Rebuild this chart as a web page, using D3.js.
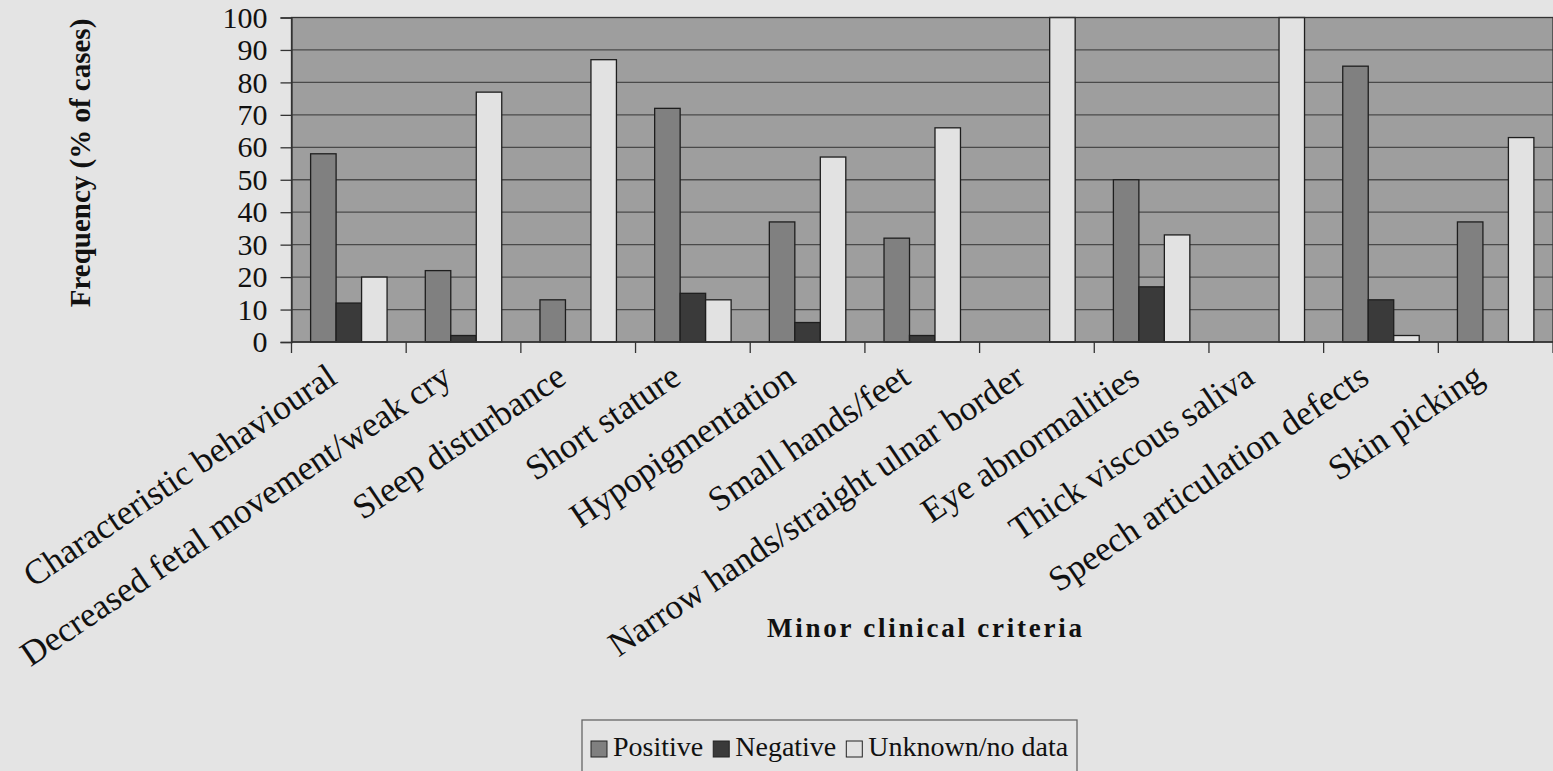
<!DOCTYPE html>
<html>
<head>
<meta charset="utf-8">
<script src="https://cdn.jsdelivr.net/npm/d3@7"></script>
<style>
  body { margin: 0; background: #e4e4e4; }
  svg { display: block; }
  text { font-family: "Liberation Serif", "Times New Roman", serif; fill: #111; }
</style>
</head>
<body>
<div id="chart"></div>
<script>
const categories = [
    "Characteristic behavioural",
    "Decreased fetal movement/weak cry",
    "Sleep disturbance",
    "Short stature",
    "Hypopigmentation",
    "Small hands/feet",
    "Narrow hands/straight ulnar border",
    "Eye abnormalities",
    "Thick viscous saliva",
    "Speech articulation defects",
    "Skin picking"
];
const seriesNames = ["Positive", "Negative", "Unknown/no data"];
const positive = [58, 22, 13, 72, 37, 32, 0, 50, 0, 85, 37];
const negative = [12, 2, 0, 15, 6, 2, 0, 17, 0, 13, 0];
const unknown = [20, 77, 87, 13, 57, 66, 100, 33, 100, 2, 63];
const yTicks = [0, 10, 20, 30, 40, 50, 60, 70, 80, 90, 100];

const seriesColors = ["#808080", "#3a3a3a", "#e2e2e2"];
const serif = "'Liberation Serif', 'Times New Roman', serif";

const W = 1553, H = 771;
const margin = { top: 17.5, right: 0, bottom: 429, left: 291.5 };
const width = W - margin.left - margin.right;
const height = H - margin.top - margin.bottom;

const rows = categories.map((c, i) => ({
    cat: c,
    values: [positive[i], negative[i], unknown[i]]
}));

const svg = d3.select("#chart")
    .append("svg")
    .attr("width", W)
    .attr("height", H);

const g = svg.append("g")
    .attr("transform", `translate(${margin.left}, ${margin.top})`);

const x0 = d3.scaleBand()
    .domain(categories)
    .range([0, width])
    .paddingInner(1 / 3)
    .paddingOuter(1 / 6);

const x1 = d3.scaleBand()
    .domain(seriesNames)
    .range([0, x0.bandwidth()])
    .padding(0);

const y = d3.scaleLinear()
    .domain([0, 100])
    .range([height, 0]);

// plot area
g.append("rect")
    .attr("width", width)
    .attr("height", height)
    .attr("fill", "#9e9e9e");

// gridlines
g.append("g")
    .selectAll("line")
    .data(yTicks.filter(d => d > 0 && d < 100))
    .enter()
    .append("line")
    .attr("x1", 0)
    .attr("x2", width)
    .attr("y1", d => y(d))
    .attr("y2", d => y(d))
    .attr("stroke", "#4a4a4a")
    .attr("stroke-width", 1.3);

// bars
const groups = g.selectAll(".grp")
    .data(rows)
    .enter()
    .append("g")
    .attr("transform", d => `translate(${x0(d.cat)}, 0)`);

groups.selectAll("rect")
    .data(d => d.values.map((v, i) => ({ key: seriesNames[i], value: v, i: i })).filter(e => e.value > 0))
    .enter()
    .append("rect")
    .attr("x", d => x1(d.key))
    .attr("y", d => y(d.value))
    .attr("width", x1.bandwidth())
    .attr("height", d => y(0) - y(d.value))
    .attr("fill", d => seriesColors[d.i])
    .attr("stroke", "#1e1e1e")
    .attr("stroke-width", 1.3);

// plot border
g.append("rect")
    .attr("width", width)
    .attr("height", height)
    .attr("fill", "none")
    .attr("stroke", "#333")
    .attr("stroke-width", 1.3);

// y axis
const yAxis = g.append("g")
    .call(d3.axisLeft(y).tickValues(yTicks).tickSize(11).tickPadding(13));
yAxis.select(".domain").attr("stroke", "#333").attr("stroke-width", 1.3);
yAxis.selectAll(".tick line").attr("stroke", "#333").attr("stroke-width", 1.3);
yAxis.selectAll("text")
    .style("font-size", "30px")
    .style("font-family", serif)
    .attr("fill", "#111");

// x axis line + ticks on category boundaries
const step = x0.step();
g.append("line")
    .attr("x1", 0).attr("x2", width)
    .attr("y1", height).attr("y2", height)
    .attr("stroke", "#333").attr("stroke-width", 1.3);
g.append("g")
    .selectAll("line")
    .data(d3.range(categories.length + 1))
    .enter()
    .append("line")
    .attr("x1", d => d * step)
    .attr("x2", d => d * step)
    .attr("y1", height)
    .attr("y2", height + 11)
    .attr("stroke", "#333")
    .attr("stroke-width", 1.3);

// category labels (rotated)
g.append("g")
    .selectAll("text")
    .data(categories)
    .enter()
    .append("text")
    .attr("transform", d => `translate(${x0(d) + x0.bandwidth() / 2 - 10}, ${height + 40}) rotate(-34)`)
    .attr("text-anchor", "end")
    .style("font-size", "35px")
    .style("font-family", serif)
    .text(d => d);

// y axis title
svg.append("text")
    .attr("transform", `translate(90, 163) rotate(-90)`)
    .attr("text-anchor", "middle")
    .style("font-size", "29px")
    .style("font-weight", "bold")
    .style("font-family", serif)
    .text("Frequency (% of cases)");

// x axis title
svg.append("text")
    .attr("x", 767)
    .attr("y", 637)
    .attr("textLength", 315)
    .attr("lengthAdjust", "spacing")
    .style("font-size", "27px")
    .style("font-weight", "bold")
    .style("font-family", serif)
    .text("Minor clinical criteria");

// legend
const legend = svg.append("g").attr("transform", "translate(582, 720)");
legend.append("rect")
    .attr("width", 495)
    .attr("height", 70)
    .attr("fill", "none")
    .attr("stroke", "#666")
    .attr("stroke-width", 1.3);

let cursor = 9;
seriesNames.forEach((name, i) => {
    legend.append("rect")
        .attr("x", cursor)
        .attr("y", 21)
        .attr("width", 16)
        .attr("height", 16)
        .attr("fill", seriesColors[i])
        .attr("stroke", "#222")
        .attr("stroke-width", 1);
    const t = legend.append("text")
        .attr("x", cursor + 22)
        .attr("y", 36)
        .style("font-size", "28px")
        .style("font-family", serif)
        .text(name);
    cursor += 22 + t.node().getComputedTextLength() + 10;
});
</script>
</body>
</html>
